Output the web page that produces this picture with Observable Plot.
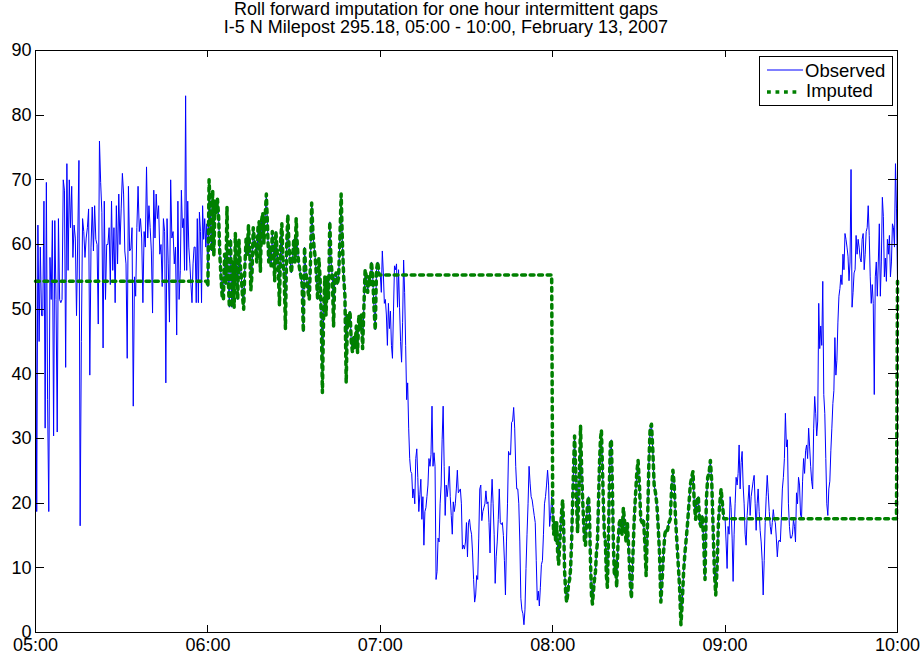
<!DOCTYPE html>
<html>
<head>
<meta charset="utf-8">
<script src="https://cdn.jsdelivr.net/npm/d3@7"></script>
<script src="https://cdn.jsdelivr.net/npm/@observablehq/plot@0.6"></script>
<style>
  html, body { margin: 0; padding: 0; background: #fff; }
  svg { display: block; }
</style>
</head>
<body>
<div id="chart"></div>
<script>
// Detector speed readings (mph), I-5 N milepost 295.18, 13 Feb 2007.
// Each block runs from its start time up to the start of the next block.
const obs0500 = [65, 18.7, 63, 45, 59.6, 49, 49, 66.7, 31.6, 69.6, 36, 18.7, 58, 51.5, 63.7, 30.4, 63.7, 51.5, 31, 64,
  51.5, 51, 51.5, 70, 68.4, 41, 72.5, 56, 70, 62.6, 69, 58, 63, 61, 49, 61, 73, 16.5, 45, 64,
  62, 58, 61, 62.6, 65.5, 39.8, 59.6, 65.8, 59, 66, 60.8, 60, 47.7, 76, 69.6, 65, 44, 66.7, 51.5, 60,
  60, 62.6, 53.8, 66.7, 56, 62.6, 51, 66, 57, 67.8, 60, 65.5, 71, 67.8, 59, 57, 42.4, 69, 59, 59.3,
  62.6, 35, 55, 52, 62.6, 69, 62, 64, 61, 51, 62, 59.6, 72, 61, 66, 62.6, 59, 49.4, 68.4, 61,
  67.8, 64, 66, 58.5, 60, 53.5, 64, 62, 38.6, 64, 57, 48, 70, 61, 62, 57, 59.6, 46, 66.7, 51.5];
const obs0550 = [56, 68.4, 62.6, 64, 56, 83, 56, 66.7, 59.6, 57, 53.8, 51, 57, 59.6, 59.6, 51, 64, 51, 65, 62,
  51, 66, 60.8, 64, 59.6, 63.2];
const obs0600 = [53.5, 70, 65, 59, 68.4, 58.2, 66.7, 64.9, 67, 64.3, 58.5, 55, 51.8, 51.5, 58.5, 53.8, 65.8, 55, 50.3, 60.8,
  50.3, 57.3, 50.3, 61.7, 56, 51.5, 60.8, 57.3, 55, 52, 50, 56.7, 60.8, 58.5, 62.9, 59.6, 53, 55.5, 62.6, 60.8,
  59.6, 57.3, 62.6, 63.5, 55.8, 63.7, 64.9, 60.2, 64.3, 67.8, 62.6, 57.3, 59.6, 56.7, 62, 58.5, 54.4, 62, 59.1, 56.1,
  50.6, 60.8, 63.2, 57.3, 55, 47, 59.6, 64.6, 59.6, 57.3, 55.6, 57.9, 60.8, 57.3, 64, 59.6, 57.3, 56.1, 55, 53.8,
  46.5, 59.6, 56.1, 54.4, 52.6, 51.5, 57.3, 66.4, 62, 59.6, 57.9, 55, 51.5, 57.9, 55, 49.1, 37.1, 49.1, 55];
const obs0641 = [49.1, 55, 51.5, 63.5, 57.3, 55, 47.4, 55, 55.6, 53.8, 55, 60.8, 67.8, 60.2, 55, 52, 38.6, 49.1, 48, 49.7,
  45, 43.3, 45.6, 43.9, 47.4, 43.3, 49.1, 46.8, 49.1, 43.9, 50.3, 56.1, 55, 52.6, 55, 53.8, 57.3, 55, 50.3, 46.8,
  56.1, 57.3, 55.3];
const obs0700 = [55.3, 52.6, 59, 55.6, 50.9, 51.5, 49.1, 44.4, 50.9, 47, 49.7, 44.4, 42.4, 49.7, 56.7, 56.1, 57, 50.3, 56.1, 50.3,
  45, 41.8, 47.9, 57.6, 52.6, 44.4, 36, 38.6, 31.6, 26.9, 24.9, 24.6, 20.8, 22.2, 19.9, 26.9, 28.4, 24, 18.7, 21.3,
  23.7, 17.5, 21, 13.5, 18.7, 19.3, 21, 22.8, 26.9, 25.7, 27.5, 35, 25.7, 27.8, 25.7, 8.2, 9.4, 14.6, 14, 19.9,
  22.8, 29.8, 35, 25.7, 18.1, 22.8, 21, 22.8, 25.7, 21, 18.1, 15.2, 20.2, 18.7, 19.9, 22.2, 25.1, 21.6, 21.9, 22.2,
  19.9, 12.9, 13.5, 12.9, 14, 17, 11.7, 17, 17.5];
const obs0731 = [16, 15.2, 12.3, 8.2, 4.7, 5.8, 8.8, 8.2, 14.6, 22.2, 22.8, 17.3, 18.7, 19.3, 19.9, 21.9, 19.9, 20.2, 17, 12.3,
  19.9, 23.7, 19.9, 15.2, 7.6, 11.7, 14, 17.5, 22.2, 17, 16.7, 17, 15, 11.1, 5.8, 14, 19.9, 28, 27.5, 27.5,
  32.5, 32.7, 34.8, 31.6, 25.7, 22.2, 22.2, 19.9, 14, 5.3, 3.5, 2.9, 1.2, 3.5, 9.9, 15.2, 19.9, 25.7, 23.1, 21,
  20.5, 19.3, 18.1, 17, 11.1, 5, 6.4, 4.1, 7, 10.5, 11.1, 15.2, 19.9, 21, 22.8, 25.1, 22.8, 16.4, 18.1, 21];
const obs0800 = [19.3, 15.2, 17, 14, 17, 12.3, 10.5, 13.5, 16.4, 18.7, 20.5, 16.4, 9.4, 6.4, 4.7, 5.8, 7.6, 8.2, 9.9, 14,
  19.9, 25.7, 30.4, 25.7, 19.9, 15.5, 19.9, 25.7, 31.9, 25.7, 21, 17.5, 14, 13.5, 17, 19.9, 21, 18.1, 11.1, 5.8,
  4.4, 6.4, 8.2, 9.4, 12.3, 14, 19.9, 25.7, 29.8, 31.3, 25.7, 19.9, 15.2, 14, 8.8, 7, 14, 22.8, 29.2, 29.8,
  22.8, 14, 8.8];
const obs0822 = [11.1, 7, 14, 17, 17.5, 15.2, 19.3, 17, 14, 17, 12.9, 8.2, 5.3, 11.1, 17, 21, 24.6, 26.6, 22.8, 17.5,
  17, 17.5, 14, 8.8, 16.4, 25.7, 31.6, 32.2, 28.1, 22.8, 21.6, 19.9, 16.4, 12.3, 4.7, 8.2, 12.3, 15.2, 16, 15.8,
  17, 17.5, 22.2, 25.1, 22.8, 17.5, 14, 10.5, 7, 1.2, 4.7, 9.4, 12.3, 14.6, 17, 19.9, 22.8, 24, 24.9, 19.9,
  17.5, 20.5, 21, 17, 16.4, 18.1, 14, 8.2, 20.5, 24, 24.6, 26.6, 23.4, 16.4, 9.4, 5.8, 9.9, 17, 19.9, 22.2,
  19.9, 17.6];
const obs0900 = [17.6, 14, 9.9, 16.4, 15.2, 21, 19.3, 14.6, 7.9, 15.2, 19.9, 24, 22.8, 24.6, 29, 22.2, 26.3, 28, 22.8, 19.9,
  15.2, 13.5, 18.1, 20.5, 22.8, 18.1, 21, 22.2, 23.4, 24.3, 19.9, 15.8, 19.9, 22.2, 18.7];
const obs0912 = [15.8, 14, 11.1, 5.8, 11.1, 17, 21, 24.3, 21.6, 18.7, 16.4, 15.2, 17, 19, 17.5, 17, 14.6, 11.7, 14, 14.3,
  14, 17.8, 22.2, 24, 26.9, 33.9, 28.7, 29.8, 19.9, 16.4, 14.6, 14.6, 15.2, 17.5, 16.4, 14, 21.6, 19.9, 24, 22.8,
  18.1, 17.8, 23.4, 26.9, 24.6, 28.1, 29, 26.9, 31.6, 28.7, 25.7, 23.4, 22.2, 31.6, 36.5, 33.9, 30.4, 32.7, 50.9, 43.9,
  47.4, 44.4, 54.3, 36.8, 33.9, 26.9, 19.9, 18.1, 22.2, 23.4, 28.1, 31.6, 35.4, 37.4, 45.6, 39.8, 42.1, 48, 52, 53.2,
  55.3, 53.8, 58.5, 56.1, 61.7, 60.8, 59.6, 58.2, 54.4, 57.3, 71.6, 50.3, 52.6, 55.6, 56.1, 61.4, 58.5, 60.8, 59.6, 57.9,
  57.3, 60.8, 61.7, 56.1, 58.5, 62, 62.6, 66, 61.4, 55, 50.9, 53.8, 50.9, 36.8, 55, 57.3, 52, 57.3, 63.2, 52,
  57.3, 67.3, 64.3, 55, 57.9, 54.3, 60.8, 58.5, 61.4, 55, 57.3, 63.2, 62.6, 59.6, 72.5, 65.5, 54.3];

// Block start times, in the same order as the blocks above
const blockStarts = ["05:00:00", "05:50:24", "06:00:00", "06:41:06", "07:00:00", "07:31:24",
  "08:00:00", "08:21:48", "09:00:00", "09:12:12"];
const blocks = [obs0500, obs0550, obs0600, obs0641, obs0700, obs0731, obs0800, obs0822, obs0900, obs0912];
const endTime = "10:00:00";

// Hours treated as one-hour gaps and filled by rolling the last value forward
const gapHours = [5, 7, 9];
const valueBefore0500 = 54.3;

const xTickLabels = ["05:00", "06:00", "07:00", "08:00", "09:00", "10:00"];
const yTicks = [0, 10, 20, 30, 40, 50, 60, 70, 80, 90];

const titleLines = ["Roll forward imputation for one hour intermittent gaps",
  "I-5 N Milepost 295.18, 05:00 - 10:00, February 13, 2007"];
const seriesNames = ["Observed", "Imputed"];

// ---- build the series ----
const clock = s => {
  const [h, m, sec = 0] = s.split(":").map(Number);
  return new Date(Date.UTC(2007, 1, 13, h, m, sec));
};

const observed = [];
blocks.forEach((vals, i) => {
  const t0 = +clock(blockStarts[i]);
  const isLast = i === blocks.length - 1;
  const t1 = +clock(isLast ? endTime : blockStarts[i + 1]);
  const n = isLast ? vals.length - 1 : vals.length;
  vals.forEach((v, j) => observed.push({time: new Date(t0 + (t1 - t0) * j / n), value: v}));
});

let carried = valueBefore0500;
const imputed = observed.map(d => {
  const inGap = gapHours.includes(d.time.getUTCHours());
  if (!inGap) carried = d.value;
  return {time: d.time, value: inGap ? carried : d.value};
});

const xTickTimes = xTickLabels.map(clock);
const FONT = "'Liberation Sans', Arial, Helvetica, sans-serif";
const BLUE = "#0000ff", GREEN = "#008000";
const DASH = "3.8,4.7";

// inward tick marks on all four sides of the box
function inwardTicks(index, scales, values, dims) {
  const g = d3.create("svg:g").attr("stroke", "black").attr("stroke-width", 1);
  const left = dims.marginLeft, right = dims.width - dims.marginRight;
  const top = dims.marginTop, bottom = dims.height - dims.marginBottom;
  for (const t of xTickTimes) {
    const x = Math.round(scales.x(t)) + 0.5;
    g.append("line").attr("x1", x).attr("x2", x).attr("y1", bottom).attr("y2", bottom - 7);
    g.append("line").attr("x1", x).attr("x2", x).attr("y1", top).attr("y2", top + 7);
  }
  for (const v of yTicks) {
    const y = Math.round(scales.y(v)) + 0.5;
    g.append("line").attr("x1", left).attr("x2", left + 9).attr("y1", y).attr("y2", y);
    g.append("line").attr("x1", right).attr("x2", right - 9).attr("y1", y).attr("y2", y);
  }
  return g.node();
}

const chart = Plot.plot({
  width: 922,
  height: 653,
  marginLeft: 35,
  marginRight: 25,
  marginTop: 50,
  marginBottom: 21,
  style: {fontFamily: FONT, fontSize: "18px", color: "black", background: "white"},
  x: {type: "utc", domain: [clock("05:00"), clock(endTime)]},
  y: {domain: [0, 90]},
  marks: [
    Plot.line(observed, {x: "time", y: "value", stroke: BLUE, strokeWidth: 1}),
    Plot.line(imputed, {x: "time", y: "value", stroke: GREEN, strokeWidth: 3.5, strokeDasharray: DASH}),
    Plot.frame({stroke: "black", strokeWidth: 1}),
    inwardTicks,
    Plot.axisX(xTickTimes, {tickSize: 0, tickPadding: 5.5, fontSize: 18,
      tickFormat: (d, i) => xTickLabels[i], label: null}),
    Plot.axisY(yTicks, {tickSize: 0, tickPadding: 4, fontSize: 18, label: null})
  ]
});

const svg = d3.select(chart);
svg.style("overflow", "visible");

// two-line title
svg.append("g")
  .attr("font-family", FONT).attr("font-size", 18).attr("fill", "black").attr("text-anchor", "middle")
  .selectAll("text").data(titleLines).join("text")
  .attr("x", 446).attr("y", (d, i) => 15 + i * 18.3)
  .text(d => d);

// legend
const lg = svg.append("g").attr("font-family", FONT).attr("font-size", 18.5)
  .attr("text-anchor", "start").attr("fill", "black");
lg.append("rect").attr("x", 759.5).attr("y", 56.5).attr("width", 133).attr("height", 49)
  .attr("fill", "white").attr("stroke", "black").attr("stroke-width", 1);
lg.append("line").attr("x1", 767).attr("x2", 803).attr("y1", 70).attr("y2", 70)
  .attr("stroke", BLUE).attr("stroke-width", 1);
lg.append("line").attr("x1", 767).attr("x2", 798).attr("y1", 92).attr("y2", 92)
  .attr("stroke", GREEN).attr("stroke-width", 3.5).attr("stroke-dasharray", DASH);
lg.append("text").attr("x", 805).attr("y", 77).text(seriesNames[0]);
lg.append("text").attr("x", 806).attr("y", 97).text(seriesNames[1]);

document.getElementById("chart").appendChild(chart);
</script>
</body>
</html>
